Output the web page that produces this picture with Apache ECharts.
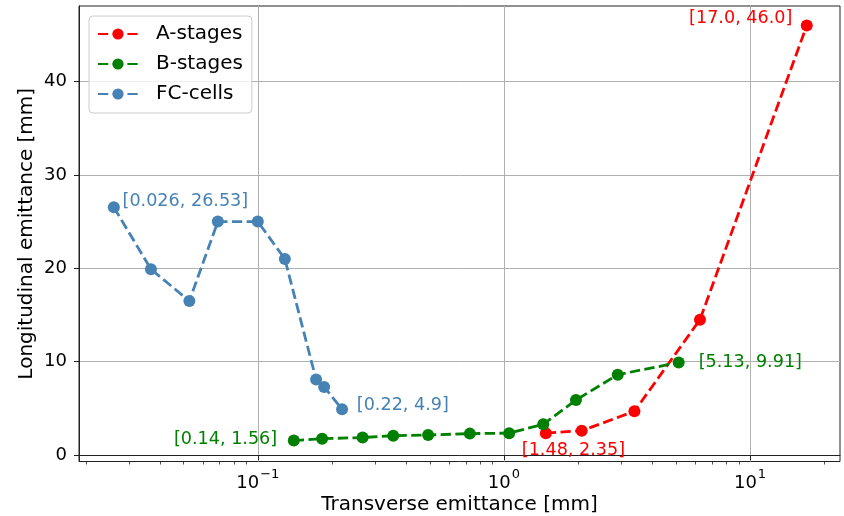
<!DOCTYPE html>
<html>
<head>
<meta charset="utf-8">
<script src="https://cdn.jsdelivr.net/npm/echarts@6/dist/echarts.min.js"></script>
<style>
  html, body { margin: 0; padding: 0; background: #fff; }
  #chart { width: 844px; height: 516px; }
</style>
</head>
<body>
<div id="chart"></div>
<script>
// Emittance data: [transverse, longitudinal] in mm
const aStagesX = [1.48, 2.07, 3.39, 6.26, 17.0];
const aStagesY = [2.35, 2.61, 4.69, 14.5, 46.0];

const bStagesX = [0.14, 0.1825, 0.2665, 0.355, 0.492, 0.727, 1.05, 1.445, 1.962, 2.90, 5.13];
const bStagesY = [1.56, 1.76, 1.88, 2.08, 2.15, 2.30, 2.35, 3.30, 5.90, 8.61, 9.91];

const fcCellsX = [0.026, 0.0368, 0.0527, 0.0688, 0.1, 0.1288, 0.1725, 0.186, 0.22];
const fcCellsY = [26.53, 19.9, 16.5, 25.0, 25.0, 21.0, 8.1, 7.3, 4.9];

// Axis ranges and ticks
const xRange = [0.01877, 23.2];
const yRange = [-0.685, 48.08];
const xMajorTicks = [0.1, 1, 10];
const xMinorTicks = [0.02, 0.03, 0.04, 0.05, 0.06, 0.07, 0.08, 0.09,
                     0.2, 0.3, 0.4, 0.5, 0.6, 0.7, 0.8, 0.9,
                     2, 3, 4, 5, 6, 7, 8, 9, 20];
const yTicks = [0, 10, 20, 30, 40];

const RED = '#ff0000', GREEN = '#008000', BLUE = '#4682b4';
const FONT = 'DejaVu Sans';

function pairs(xs, ys) { return xs.map((x, i) => [x, ys[i]]); }

function fmtPoint(v, dx, dy) {
  return '[' + v[0].toFixed(dx) + ', ' + v[1].toFixed(dy) + ']';
}

// Attach a value label to one point of a series
function annotate(data, idx, color, dx, dy, pos, align) {
  const v = data[idx];
  data[idx] = {
    value: v,
    label: {
      show: true,
      formatter: fmtPoint(v, dx, dy),
      position: pos,
      align: align,
      verticalAlign: 'middle',
      color: color,
      fontFamily: FONT,
      fontSize: 17.6
    }
  };
}

const aData = pairs(aStagesX, aStagesY);
const bData = pairs(bStagesX, bStagesY);
const fcData = pairs(fcCellsX, fcCellsY);

annotate(aData, 0, RED, 2, 2, [33.6, 23.7], 'center');
annotate(aData, aData.length - 1, RED, 1, 1, [-8.4, -0.7], 'right');
annotate(bData, 0, GREEN, 2, 2, [-10.6, 4.6], 'right');
annotate(bData, bData.length - 1, GREEN, 2, 2, [26, 5.4], 'left');
annotate(fcData, 0, BLUE, 3, 2, [14.7, 0.3], 'left');
annotate(fcData, fcData.length - 1, BLUE, 2, 1, [20.7, 1.7], 'left');

function isPow10(v) {
  const e = Math.round(Math.log10(v));
  return Math.abs(v - Math.pow(10, e)) / v < 1e-6;
}

function lineSeries(name, data, color) {
  return {
    name: name,
    type: 'line',
    data: data,
    symbol: 'circle',
    symbolSize: 12,
    itemStyle: { color: color },
    lineStyle: { color: color, width: 2.8, type: [10.3, 4.4] },
    emphasis: { disabled: true },
    z: 3
  };
}

const chart = echarts.init(document.getElementById('chart'), null, { renderer: 'canvas' });

chart.setOption({
  animation: false,
  backgroundColor: '#fff',
  grid: {
    left: 79, right: 4, top: 6, bottom: 54.5,
    outerBoundsMode: 'none',
    containLabel: false,
    show: true, borderColor: '#222', borderWidth: 1, backgroundColor: 'transparent'
  },
  legend: {
    orient: 'vertical',
    left: 89, top: 16,
    padding: [8, 9, 9, 8],
    itemWidth: 40, itemHeight: 14, itemGap: 10,
    backgroundColor: 'rgba(255,255,255,0.8)',
    borderColor: '#cccccc', borderWidth: 1, borderRadius: 4,
    textStyle: { fontFamily: FONT, fontSize: 20, color: '#000', padding: [0, 0, 0, 13] },
    data: ['A-stages', 'B-stages', 'FC-cells']
  },
  xAxis: [
    {
      type: 'log',
      logBase: 10,
      min: xRange[0], max: xRange[1],
      name: 'Transverse emittance [mm]',
      nameLocation: 'middle',
      nameGap: 33,
      nameMoveOverlap: false,
      nameTextStyle: { fontFamily: FONT, fontSize: 20, color: '#000' },
      axisLine: { show: true, lineStyle: { color: '#222', width: 1 } },
      axisTick: { show: true, customValues: xMajorTicks, length: 5, lineStyle: { color: '#222', width: 1 } },
      axisLabel: {
        customValues: xMajorTicks,
        margin: 7,
        color: '#000',
        formatter: function (v) {
          if (!isPow10(v)) return '';
          const e = Math.round(Math.log10(v));
          return '{b|10}{s|' + String(e).replace('-', '\u2212') + '}';
        },
        rich: {
          b: { fontFamily: FONT, fontSize: 18, color: '#000', lineHeight: 24, verticalAlign: 'bottom' },
          s: { fontFamily: FONT, fontSize: 13, color: '#000', lineHeight: 24, verticalAlign: 'top', padding: [0, 0, 0, 1] }
        }
      },
      splitLine: { show: true, lineStyle: { color: '#b0b0b0', width: 1 } }
    },
    {
      type: 'log',
      logBase: 10,
      min: xRange[0], max: xRange[1],
      position: 'bottom',
      axisLine: { show: false },
      axisTick: { show: true, customValues: xMinorTicks, length: 3, lineStyle: { color: '#222', width: 0.8 } },
      axisLabel: { show: false },
      splitLine: { show: false }
    }
  ],
  yAxis: {
    type: 'value',
    min: yRange[0], max: yRange[1],
    name: 'Longitudinal emittance [mm]',
    nameLocation: 'middle',
    nameGap: 42,
    nameMoveOverlap: false,
    nameTextStyle: { fontFamily: FONT, fontSize: 20, color: '#000' },
    axisLine: { show: true, lineStyle: { color: '#222', width: 1 } },
    axisTick: { show: true, customValues: yTicks, length: 5, lineStyle: { color: '#222', width: 1 } },
    axisLabel: {
      customValues: yTicks,
      margin: 12,
      fontFamily: FONT, fontSize: 18, color: '#000',
      formatter: function (v) { return yTicks.indexOf(v) >= 0 ? String(v) : ''; }
    },
    splitLine: { show: true, lineStyle: { color: '#b0b0b0', width: 1 } }
  },
  series: [
    lineSeries('A-stages', aData, RED),
    lineSeries('B-stages', bData, GREEN),
    lineSeries('FC-cells', fcData, BLUE)
  ]
});
</script>
</body>
</html>
